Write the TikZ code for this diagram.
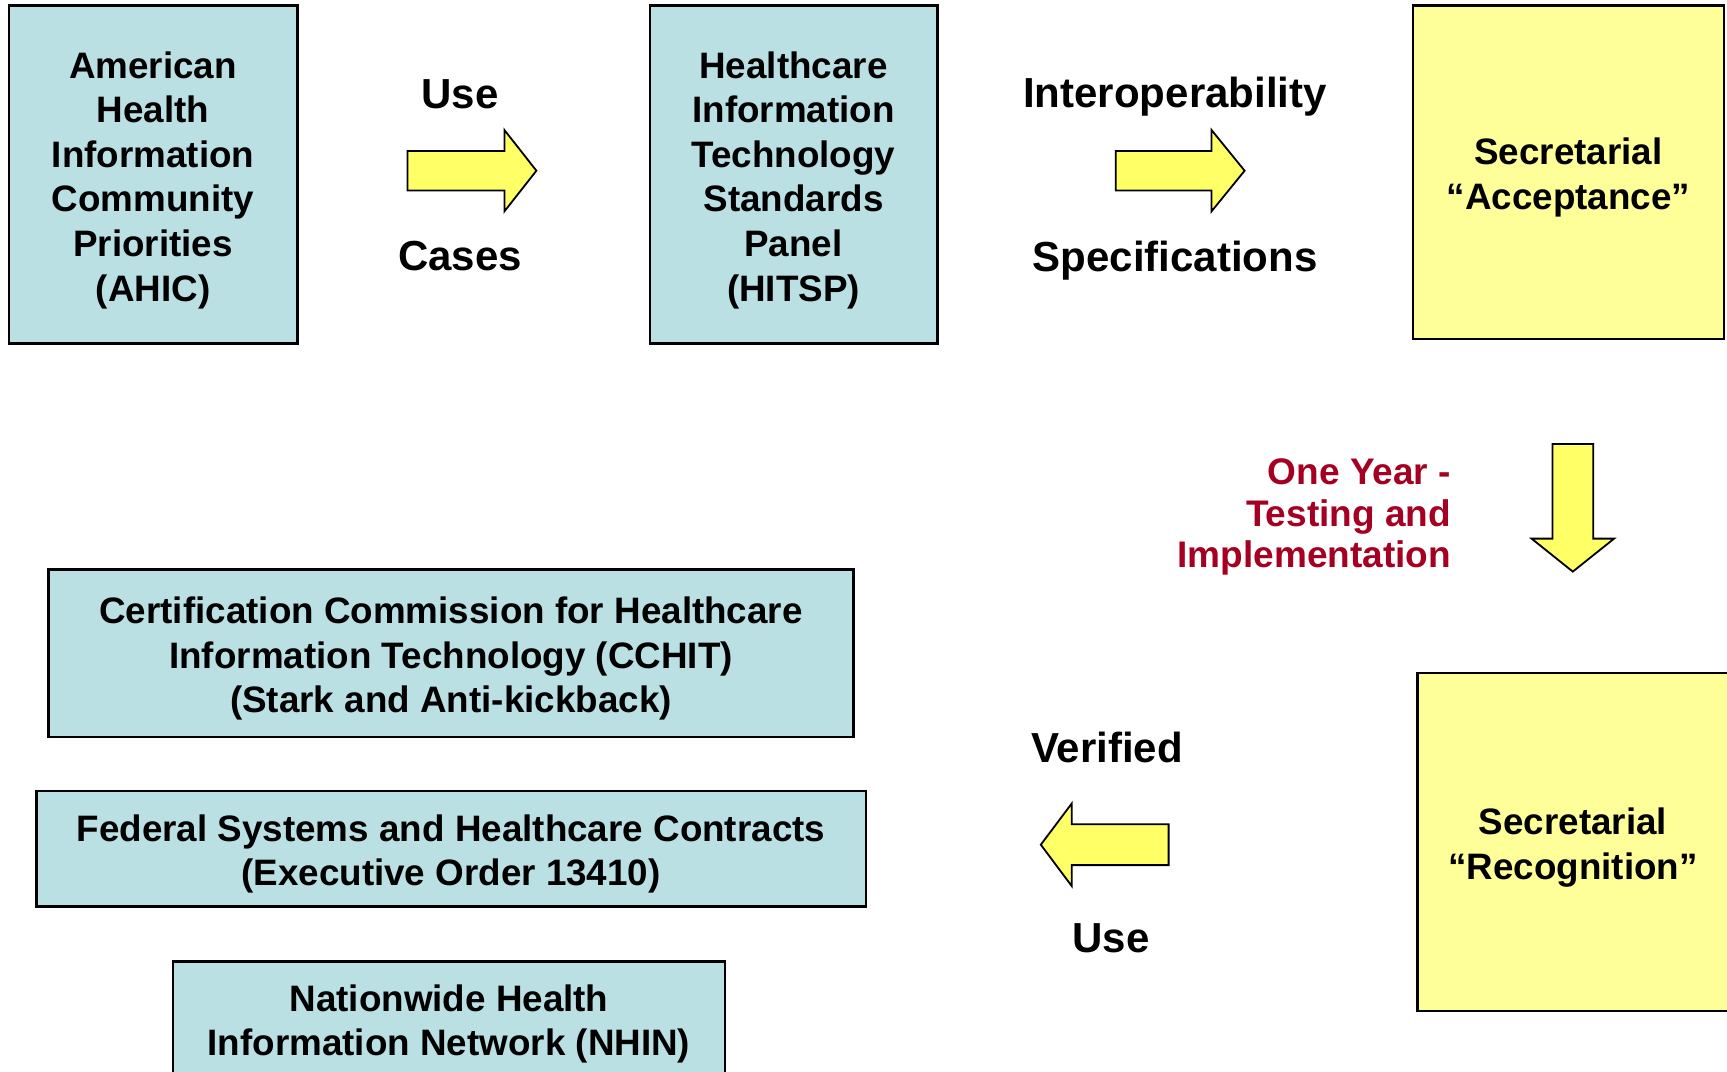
\documentclass[tikz,border=0pt]{standalone}
\usepackage{fontspec}
\setmainfont{Liberation Sans}
\definecolor{boxcyan}{RGB}{186,224,227}
\definecolor{boxyellow}{RGB}{255,255,153}
\definecolor{arrowyellow}{RGB}{255,255,102}
\definecolor{darkred}{RGB}{165,0,33}
\begin{document}
\begin{tikzpicture}[x=0.5pt,y=-0.5pt,
    every node/.style={font=\bfseries\fontsize{18.4}{22.3}\selectfont,align=center},
    cyanbox/.style={draw=black,line width=1.2pt,fill=boxcyan,inner sep=0pt},
    yellowbox/.style={draw=black,line width=1.2pt,fill=boxyellow,inner sep=0pt},
    boxtext/.style={yshift=-2.75pt},
    blockarrow/.style={draw=black,line width=0.9pt,fill=arrowyellow,line join=miter},
    flowlabel/.style={font=\bfseries\fontsize{21}{25}\selectfont,anchor=base}]
  \useasboundingbox (0,0) rectangle (1727,1071);
  % top row
  \node[cyanbox,minimum width=144.3pt,minimum height=169pt] (ahic) at (153.1,174.5) {};
  \node[boxtext] (ahictext) at (ahic)
    {American\\Health\\Information\\Community\\Priorities\\(AHIC)};
  \node[cyanbox,minimum width=143.8pt,minimum height=169pt] (hitsp) at (793.5,174.5) {};
  \node[boxtext] (hitsptext) at (hitsp)
    {Healthcare\\Information\\Technology\\Standards\\Panel\\(HITSP)};
  \node[yellowbox,minimum width=155.5pt,minimum height=166.8pt] (accept) at (1568.5,172.2) {};
  \node[boxtext] (accepttext) at (accept) {Secretarial\\“Acceptance”};
  % right column
  \node[yellowbox,minimum width=155.5pt,minimum height=169pt] (recog) at (1573,842) {};
  \node[boxtext] (recogtext) at (recog) {Secretarial\\“Recognition”};
  % bottom left
  \node[cyanbox,minimum width=402.6pt,minimum height=83.7pt] (cchit) at (451,653.1) {};
  \node[boxtext] (cchittext) at (cchit)
    {Certification Commission for Healthcare\\Information Technology (CCHIT)\\(Stark and Anti-kickback)};
  \node[cyanbox,minimum width=414.7pt,minimum height=57.9pt] (federal) at (451,848.6) {};
  \node[boxtext] (federaltext) at (federal)
    {Federal Systems and Healthcare Contracts\\(Executive Order 13410)};
  \node[cyanbox,minimum width=275.9pt,minimum height=57pt] (nhin) at (449,1018.5) {};
  \node[boxtext] (nhintext) at (nhin) {Nationwide Health\\Information Network (NHIN)};
  % block arrows
  \begin{scope}
    \draw[blockarrow] (407.5,150.9) -- (504.4,150.9) -- (504.4,130) -- (536.4,170.7)
      -- (504.4,211.4) -- (504.4,190.5) -- (407.5,190.5) -- cycle;
    \draw[blockarrow] (1115.7,150.9) -- (1211.5,150.9) -- (1211.5,130) -- (1244.6,170.7)
      -- (1211.5,211.4) -- (1211.5,190.5) -- (1115.7,190.5) -- cycle;
    \draw[blockarrow] (1552.4,443.9) -- (1593.2,443.9) -- (1593.2,538.6) -- (1614.1,538.6)
      -- (1572.8,571.6) -- (1531.5,538.6) -- (1552.4,538.6) -- cycle;
    \draw[blockarrow] (1168.6,824.3) -- (1071.7,824.3) -- (1071.7,803.5) -- (1040.8,844.7)
      -- (1071.7,886) -- (1071.7,865.1) -- (1168.6,865.1) -- cycle;
  \end{scope}
  % arrow labels
  \node[flowlabel] (use1) at (460,108.5) {Use};
  \node[flowlabel] (cases) at (460,270.4) {Cases};
  \node[flowlabel] (interop) at (1175,107.4) {Interoperability};
  \node[flowlabel] (specs) at (1175,271) {Specifications};
  \node[flowlabel] (verified) at (1107,762.7) {Verified};
  \node[flowlabel] (use2) at (1111,952) {Use};
  \node[anchor=base east,align=right,text=darkred,
    font=\bfseries\fontsize{18.5}{20.6}\selectfont] (oneyear) at (1458,567.2)
    {One Year -\\Testing and\\Implementation};
\end{tikzpicture}
\end{document}
